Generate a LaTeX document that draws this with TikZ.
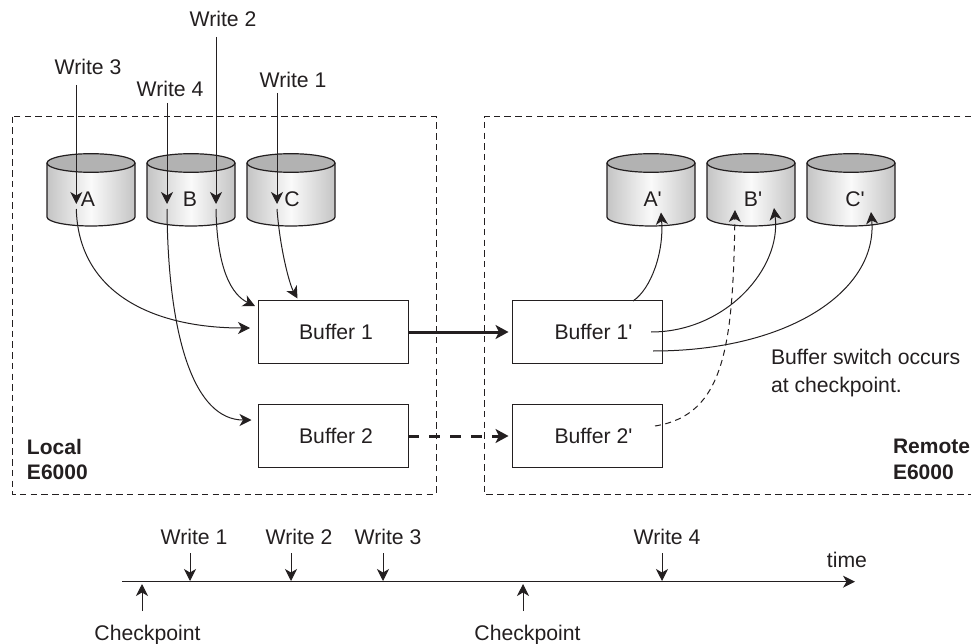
\documentclass[tikz,border=0pt]{standalone}
\usepackage{fontspec}
\setmainfont{Liberation Sans}
\newfontfamily\plainsans{Liberation Sans}
\usetikzlibrary{arrows.meta}
\definecolor{ink}{HTML}{231F20}
\newcommand{\pr}{{\plainsans\char"27}}
\tikzset{
  every node/.style={text=ink,inner sep=0pt,outer sep=0pt},
  lbl/.style={anchor=base,font=\fontsize{21.2}{25}\selectfont},
  note/.style={anchor=base west,align=left,font=\fontsize{21.2}{27}\selectfont},
  notebold/.style={anchor=base west,align=left,font=\fontsize{21}{25}\selectfont\bfseries},
  tip/.style={-{Stealth[length=12pt,width=12pt,inset=3.5pt]}},
  wire/.style={draw=ink,line width=1pt},
  frame/.style={draw=ink,line width=1pt,dash pattern=on 6.5pt off 4.2pt},
  bufbox/.style={draw=ink,line width=1pt,minimum width=150pt,minimum height=62.5pt,font=\fontsize{21.2}{25}\selectfont},
  heavy/.style={draw=ink,line width=3pt},
  heavytip/.style={-{Stealth[length=13pt,width=14pt,inset=3.5pt]},shorten >=4pt},
}
\newcommand{\disk}[2]{% centre x, name
  \shade[left color=black!23,right color=black!23,middle color=black!2]
    ({#1-44},163) -- ({#1-44},217) .. controls ({#1-44},222) and ({#1-24},226) .. ({#1},226)
    .. controls ({#1+24},226) and ({#1+44},222) .. ({#1+44},217) -- ({#1+44},163) -- cycle;
  \draw[draw=ink,line width=1.2pt]
    ({#1-44},163) -- ({#1-44},217) .. controls ({#1-44},222) and ({#1-24},226) .. ({#1},226)
    .. controls ({#1+24},226) and ({#1+44},222) .. ({#1+44},217) -- ({#1+44},163);
  \draw[draw=ink,line width=1.2pt,fill=black!30] (#1,163) ellipse [x radius=44,y radius=9.3];
  \coordinate (#2) at (#1,163);
}
\begin{document}
\begin{tikzpicture}[x=1pt,y=-1pt]
\useasboundingbox (0,0) rectangle (971,644);
% frames
\coordinate (la) at (12,116.7); \coordinate (lb) at (436,494);
\draw[frame] (la) rectangle (lb);
\coordinate (ra) at (971,116.7); \coordinate (rb) at (484,116.7);
\coordinate (rc) at (484,494); \coordinate (rd) at (971,494);
\draw[frame] (ra) -- (rb) -- (rc) -- (rd);
% disks
\disk{91}{dA}\disk{191}{dB}\disk{291}{dC}
\disk{651}{dA2}\disk{751}{dB2}\disk{851}{dC2}
\node[lbl] (nA) at (88,207) {A};
\node[lbl] (nB) at (190,207) {B};
\node[lbl] (nC) at (292,207) {C};
\node[lbl] (nA2) at (652.6,207) {A\pr};
\node[lbl] (nB2) at (753,207) {B\pr};
\node[lbl] (nC2) at (855,207) {C\pr};
% buffers
\node[bufbox] (b1) at (333,332) {\hspace*{6pt}Buffer 1};
\node[bufbox] (b2) at (333,436) {\hspace*{6pt}Buffer 2};
\node[bufbox] (b1r) at (587.5,332) {\hspace*{12pt}Buffer 1\pr};
\node[bufbox] (b2r) at (587.5,436) {\hspace*{12pt}Buffer 2\pr};
% write labels
\node[lbl] (w3) at (88,75) {Write 3};
\node[lbl] (w4) at (170,97) {Write 4};
\node[lbl] (w2) at (223,27) {Write 2};
\node[lbl] (w1) at (293,88) {Write 1};
% write lines
\coordinate (s3) at (76.3,85); \coordinate (e3) at (76.3,204);
\coordinate (s4) at (167,103); \coordinate (e4) at (167,204);
\coordinate (s2) at (216,37);  \coordinate (e2) at (216,204);
\coordinate (s1) at (277,93);  \coordinate (e1) at (277,204);
\draw[wire,tip] (s3) -- (e3);
\draw[wire,tip] (s4) -- (e4);
\draw[wire,tip] (s2) -- (e2);
\draw[wire,tip] (s1) -- (e1);
% out of disks
\coordinate (o3) at (76.3,209); \coordinate (o4) at (167,209);
\coordinate (o2) at (216,209);  \coordinate (o1) at (277,209);
\coordinate (t3) at (250,328); \coordinate (t4) at (251.5,420);
\coordinate (t2) at (255,306); \coordinate (t1) at (297.5,298.5);
\draw[wire,tip] (o3) .. controls +(2,82) and +(-100,0) .. (t3);
\draw[wire,tip] (o4) .. controls +(1,131) and +(-56.5,0) .. (t4);
\draw[wire,tip] (o2) .. controls +(1,61) and +(-23,-11) .. (t2);
\draw[wire,tip] (o1) .. controls +(3,40) and +(-8,-14) .. (t1);
% right curves
\coordinate (fA) at (633,301); \coordinate (tA) at (661,212.5);
\coordinate (fB) at (651,332); \coordinate (tB) at (774,208);
\coordinate (fC) at (653,351); \coordinate (tC) at (871,212);
\coordinate (fD) at (655,426); \coordinate (tD) at (735,210);
\draw[wire,tip] (fA) .. controls +(18,-12) and +(3,40) .. (tA);
\draw[wire,tip] (fB) .. controls +(75,0) and +(8,60) .. (tB);
\draw[wire,tip] (fC) .. controls +(137,0) and +(7,78) .. (tC);
\draw[wire,dash pattern=on 6pt off 4.5pt,tip] (fD) .. controls +(70,-11) and +(-2,135) .. (tD);
% links
\draw[heavy,heavytip] (b1.east) -- (b1r.west);
\draw[heavy,dash pattern=on 11pt off 10pt,heavytip] (b2.east) -- (b2r.west);
% notes
\node[note] (sw) at (771,364) {Buffer switch occurs};
\node[note] (sw2) at (771,392) {at checkpoint.};
\node[notebold] (loc) at (27,454) {Local};
\node[notebold] (loc2) at (27,479) {E6000};
\node[notebold] (rem) at (893,453) {Remote};
\node[notebold] (rem2) at (893,479) {E6000};
% timeline
\coordinate (tl0) at (122,581.7); \coordinate (tl1) at (855,581.7);
\draw[wire,tip] (tl0) -- (tl1);
\node[lbl] (tw1) at (194,544) {Write 1};
\node[lbl] (tw2) at (299,544) {Write 2};
\node[lbl] (tw3) at (388,544) {Write 3};
\node[lbl] (tw4) at (667,544) {Write 4};
\node[lbl] (time) at (847,567) {time};
\node[lbl] (cp1) at (147.5,640) {Checkpoint};
\node[lbl] (cp2) at (527.5,640) {Checkpoint};
\coordinate (a1) at (190,553); \coordinate (a1e) at (190,581);
\coordinate (a2) at (291,553); \coordinate (a2e) at (291,581);
\coordinate (a3) at (383,553); \coordinate (a3e) at (383,581);
\coordinate (a4) at (662,553); \coordinate (a4e) at (662,581);
\coordinate (c1) at (142,611); \coordinate (c1e) at (142,584);
\coordinate (c2) at (523,611); \coordinate (c2e) at (523,584);
\draw[wire,tip] (a1) -- (a1e);
\draw[wire,tip] (a2) -- (a2e);
\draw[wire,tip] (a3) -- (a3e);
\draw[wire,tip] (a4) -- (a4e);
\draw[wire,tip] (c1) -- (c1e);
\draw[wire,tip] (c2) -- (c2e);
\end{tikzpicture}
\end{document}
